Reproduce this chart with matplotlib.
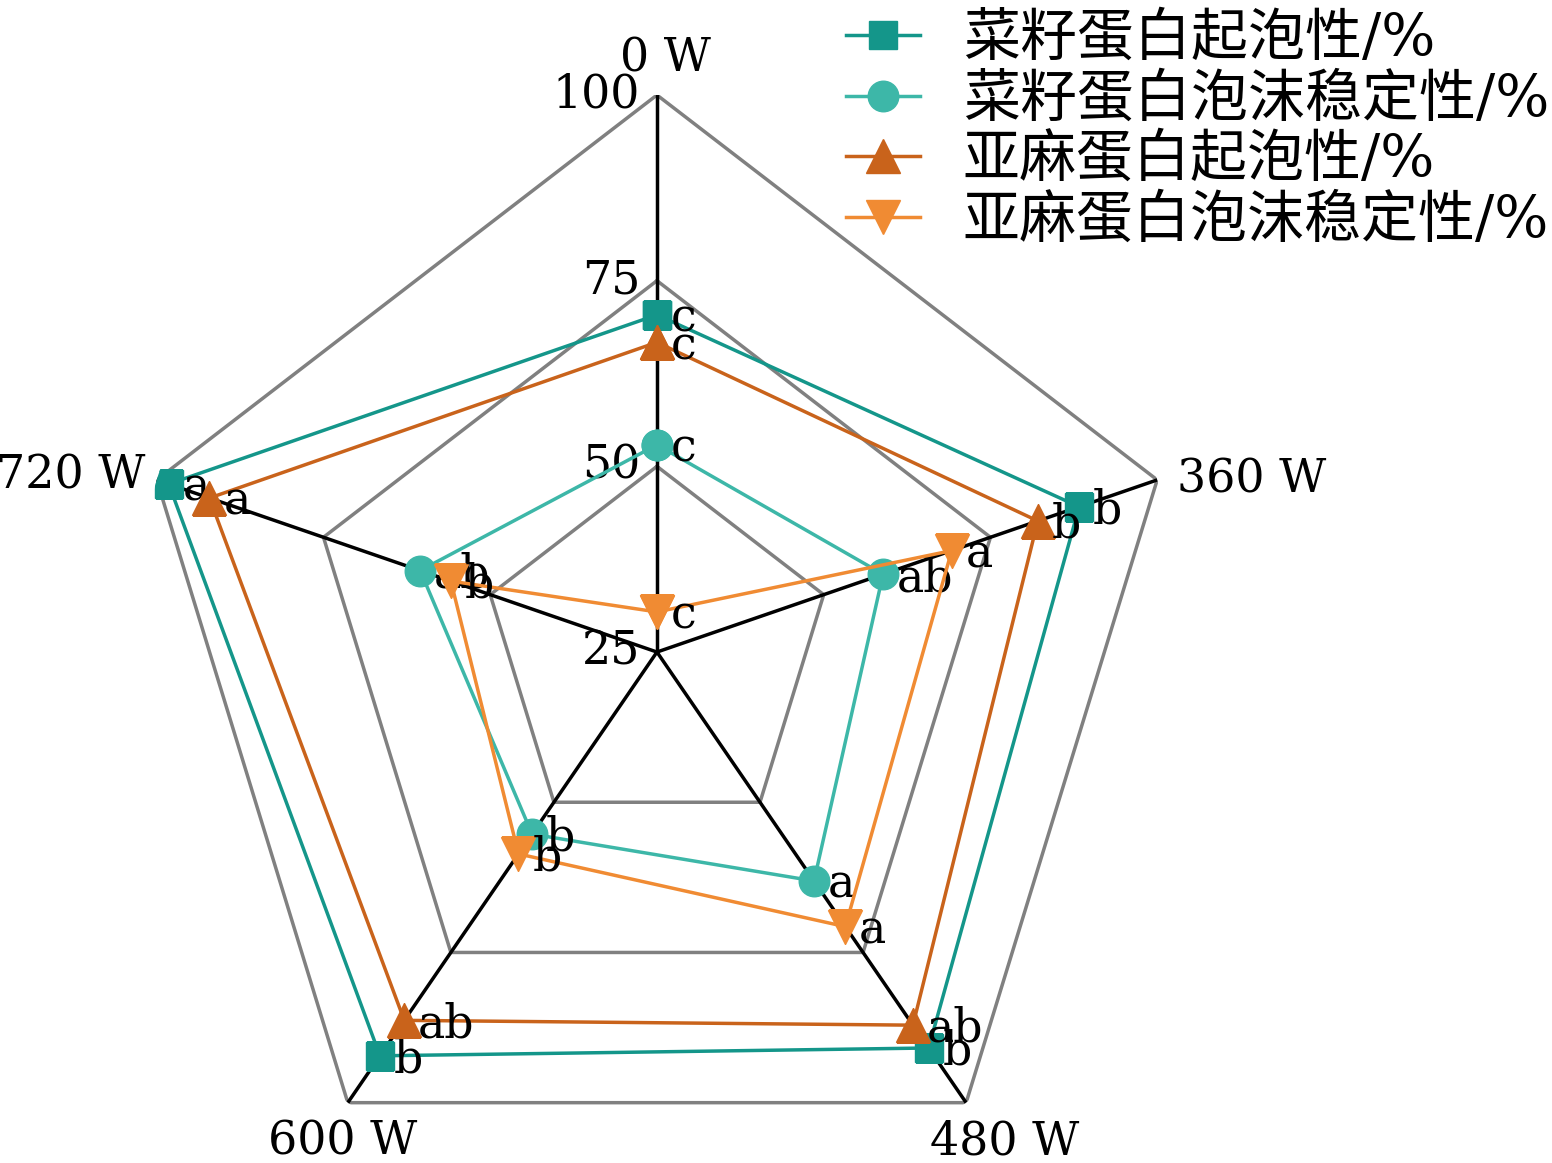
import numpy as np
import matplotlib
matplotlib.use("Agg")
import matplotlib.pyplot as plt

plt.rcParams['font.family'] = ['DejaVu Serif', 'Noto Sans CJK SC']

# microwave power levels (axes of the radar)
categories = ['0 W', '360 W', '480 W', '600 W', '720 W']
r_ticks = [25, 50, 75, 100]

# series values
rs_foam = [70.4, 88.3, 90.9, 92.2, 98.2]      # 菜籽蛋白起泡性
rs_stab = [52.9, 58.9, 63.1, 55.3, 60.5]      # 菜籽蛋白泡沫稳定性
fx_foam = [66.7, 82.1, 87.1, 86.3, 92.1]      # 亚麻蛋白起泡性
fx_stab = [30.4, 69.2, 70.7, 58.6, 55.9]      # 亚麻蛋白泡沫稳定性

# significance letters
sig_rs_foam = ['c', 'b', 'b', 'b', 'a']
sig_rs_stab = ['c', 'ab', 'a', 'b', 'ab']
sig_fx_foam = ['c', 'b', 'ab', 'ab', 'a']
sig_fx_stab = ['c', 'a', 'a', 'b', 'b']

series_names = ['菜籽蛋白起泡性/%', '菜籽蛋白泡沫稳定性/%', '亚麻蛋白起泡性/%', '亚麻蛋白泡沫稳定性/%']
colors = ['#14968a', '#3db7a8', '#c9631b', '#f08b33']
markers = ['s', 'o', '^', 'v']
msizes = [20, 22, 24, 24]

angles = np.deg2rad(np.arange(len(categories)) * 360.0 / len(categories))
closed = np.append(angles, angles[0])

fig = plt.figure(figsize=(15.52, 11.63), dpi=100)
ax = fig.add_axes([0.0844, -0.0396, 0.6778, 0.9579], projection='polar')
ax.set_aspect('auto')
ax.set_theta_zero_location('N')
ax.set_theta_direction(-1)
ax.set_ylim(25, 100)
ax.grid(False)
ax.set_xticks([])
ax.set_yticks([])
ax.spines['polar'].set_visible(False)

lw = 2.5
# pentagon grid
for r in r_ticks[1:]:
    ax.plot(closed, [r] * len(closed), color='#808080', lw=lw, zorder=1)
# spokes
for a in angles:
    ax.plot([a, a], [25, 100], color='black', lw=lw, zorder=2)

data = [rs_foam, rs_stab, fx_foam, fx_stab]
sigs = [sig_rs_foam, sig_rs_stab, sig_fx_foam, sig_fx_stab]
z = 3
for vals, sg, name, c, m, ms in zip(data, sigs, series_names, colors, markers, msizes):
    ax.plot(closed, np.append(vals, vals[0]), color=c, lw=lw, marker=m, ms=ms,
            label=name, zorder=z)
    for a, v, s in zip(angles, vals, sg):
        ax.annotate(s, xy=(a, v), xytext=(10, -3), textcoords='offset points',
                    ha='left', va='center', fontsize=33, zorder=z + 0.5)
    z += 1

# radial labels
for r in r_ticks:
    ax.annotate(str(r), xy=(0, r), xytext=(-12, 0), textcoords='offset points',
                ha='right', va='center', fontsize=33)

# category labels
offsets = [((6, 10), 'center', 'bottom'),
           ((14, 0), 'left', 'center'),
           ((28, -12), 'center', 'top'),
           ((-4, -12), 'center', 'top'),
           ((-8, 3), 'right', 'center')]
for a, lab, (off, ha, va) in zip(angles, categories, offsets):
    ax.annotate(lab, xy=(a, 100), xytext=off, textcoords='offset points',
                ha=ha, va=va, fontsize=33, annotation_clip=False)

fig.legend(loc='upper right', bbox_to_anchor=(1.0, 0.993), frameon=False,
           fontsize=41, handlelength=1.3, handletextpad=0.75, labelspacing=0.08,
           borderpad=0.05, borderaxespad=0)

fig.savefig('out.png', dpi=100)
